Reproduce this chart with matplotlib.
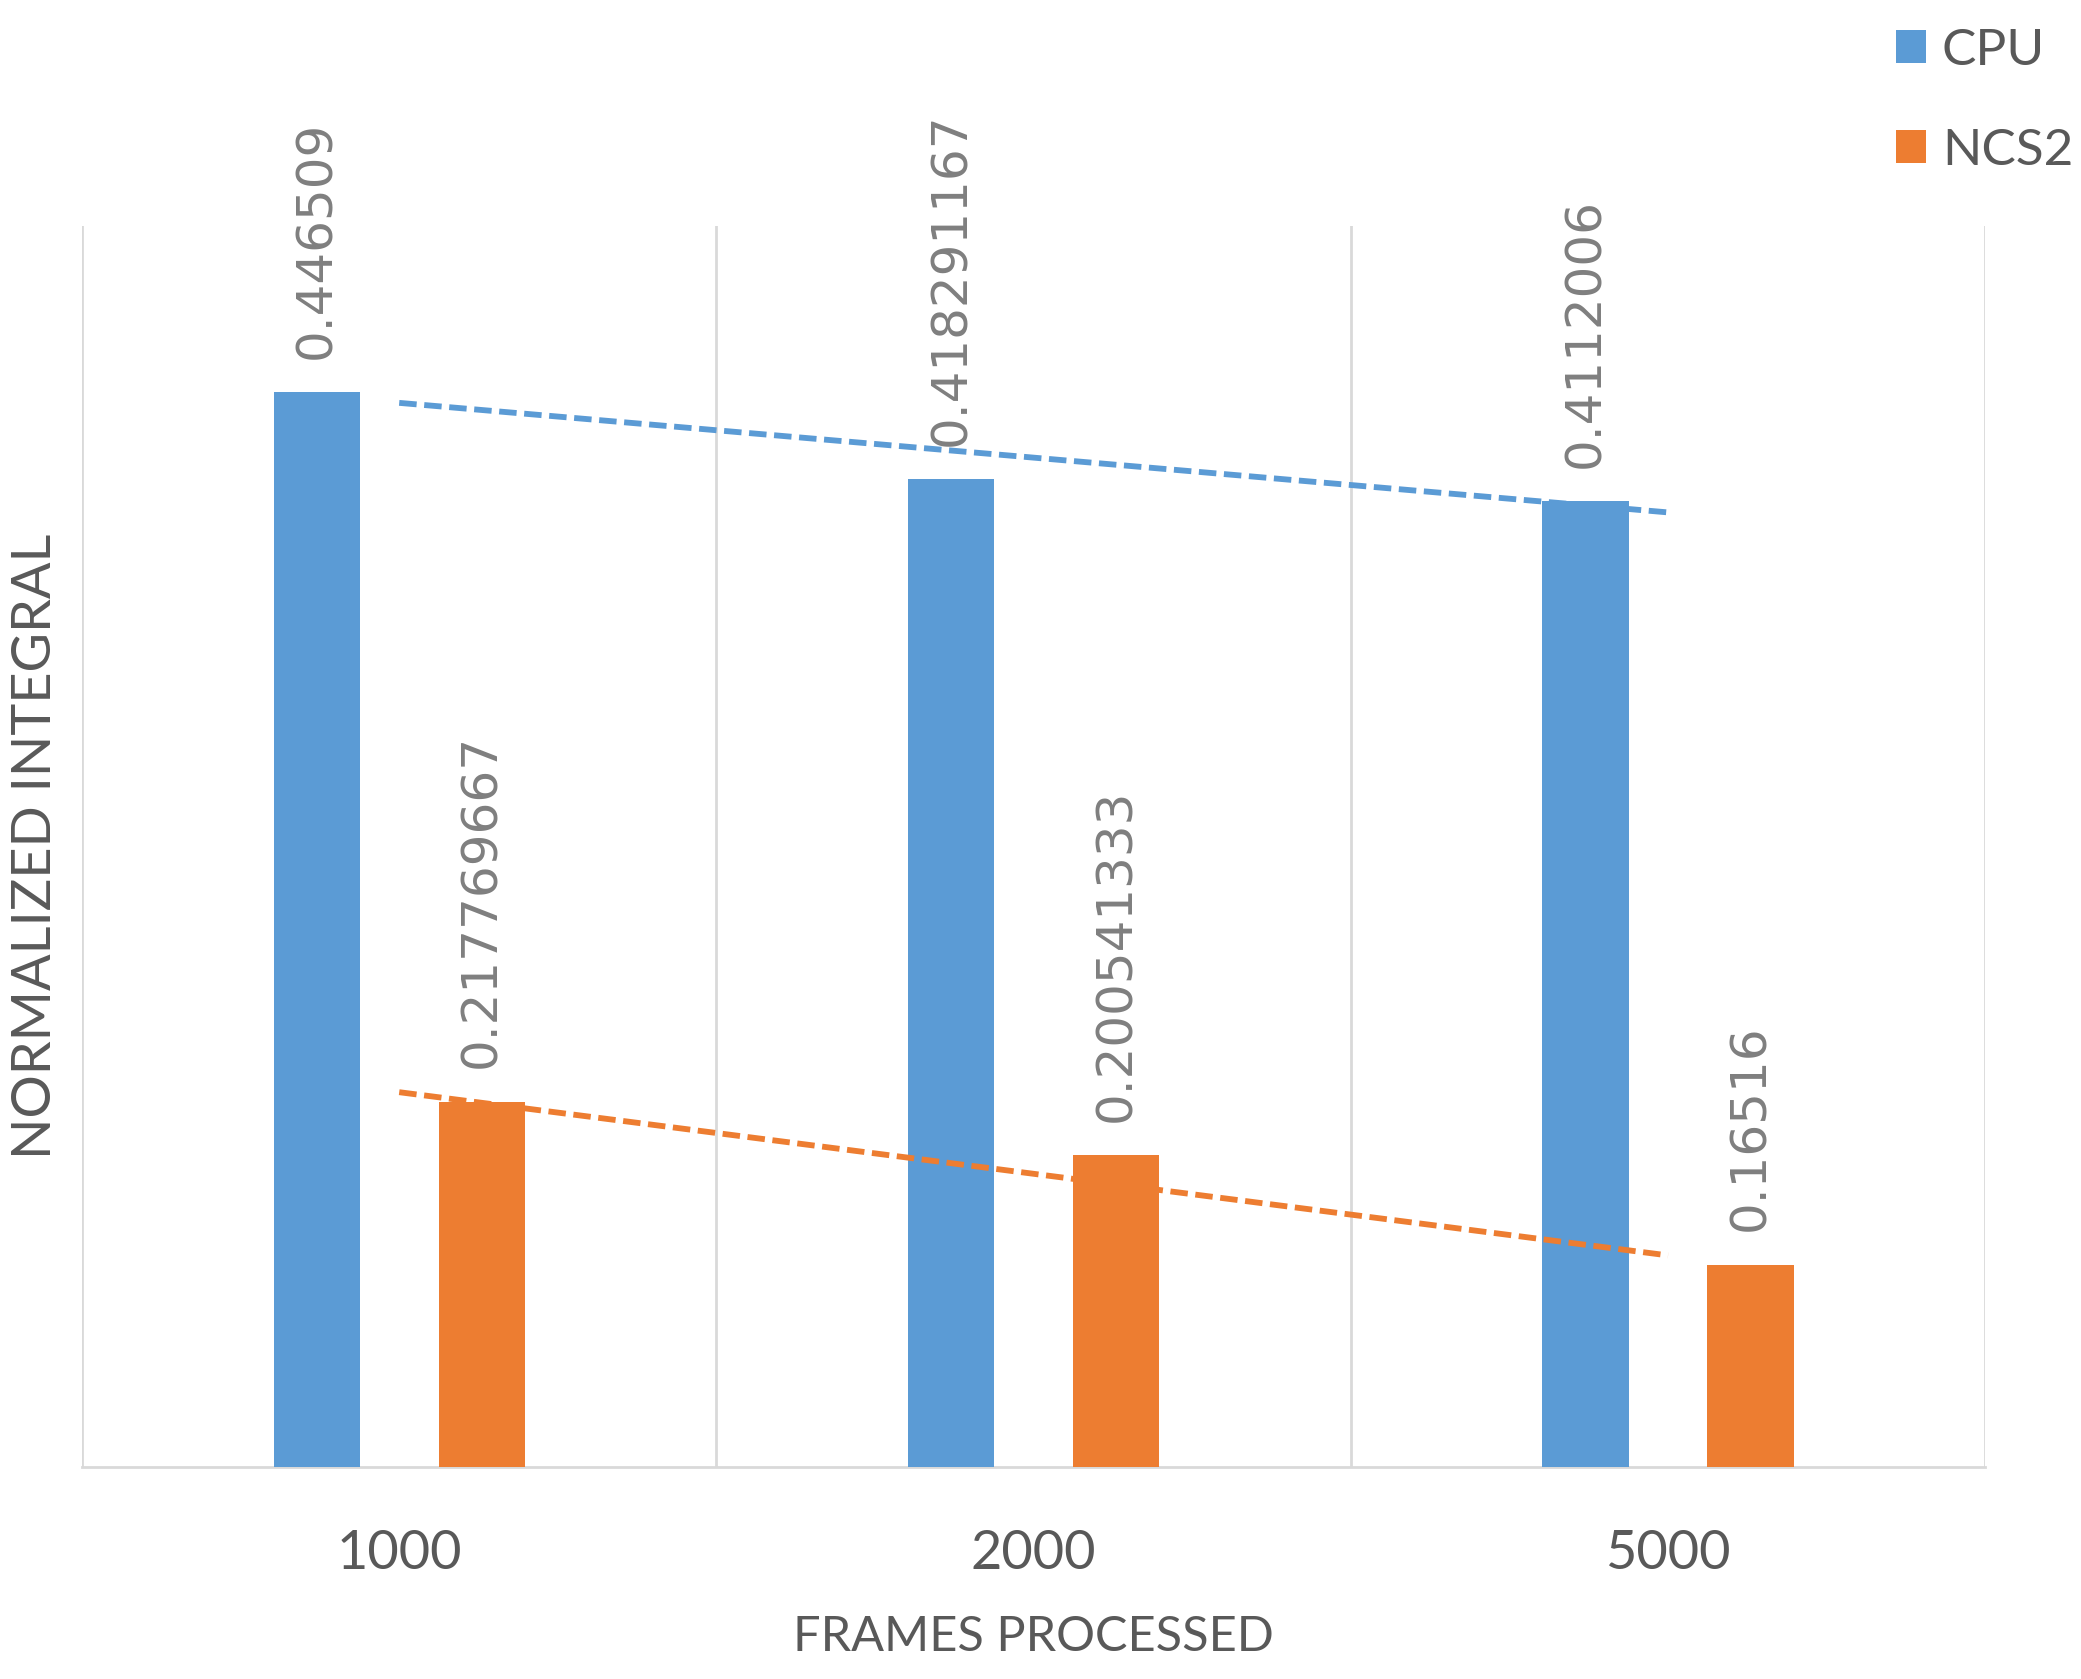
import numpy as np
import matplotlib
matplotlib.use("Agg")
import matplotlib.pyplot as plt

categories = ["1000", "2000", "5000"]
cpu = [0.446509, 0.418291167, 0.4112006]
ncs2 = [0.217769667, 0.200541333, 0.16516]
cpu_labels = ["0.446509", "0.418291167", "0.4112006"]
ncs2_labels = ["0.217769667", "0.200541333", "0.16516"]

BLUE = "#5B9BD5"
ORANGE = "#ED7D31"
GRID = "#D9D9D9"
TEXT = "#595959"
LABEL = "#7F7F7F"

plt.rcParams["font.family"] = ["Lato", "DejaVu Sans"]


def main():
    fig = plt.figure(figsize=(20.81, 16.79), dpi=100)
    ax = fig.add_axes([0.0394, 0.1263, 0.9146, 0.7391])

    x = np.arange(len(categories))
    width = 0.136
    offset = 0.13

    bars_cpu = ax.bar(x - offset, cpu, width, color=BLUE, label="CPU", zorder=3)
    bars_ncs = ax.bar(x + offset, ncs2, width, color=ORANGE, label="NCS2", zorder=3)

    # linear trend lines, Excel style
    for values, color in [(cpu, BLUE), (ncs2, ORANGE)]:
        slope, intercept = np.polyfit(x, values, 1)
        ax.plot(x, slope * x + intercept, color=color, lw=4.2,
                linestyle=(0, (3.0, 1.3)), zorder=4)

    for bars, texts in [(bars_cpu, cpu_labels), (bars_ncs, ncs2_labels)]:
        for bar, txt in zip(bars, texts):
            ax.annotate(txt, (bar.get_x() + bar.get_width() / 2, bar.get_height()),
                        xytext=(0, 24), textcoords="offset points",
                        rotation=90, ha="center", va="bottom",
                        fontsize=36, color=LABEL, family="DejaVu Sans")

    ax.set_xlim(-0.5, len(categories) - 0.5)
    ax.set_ylim(0.1, 0.5)

    for xv in np.arange(-0.5, len(categories), 1.0):
        ax.axvline(xv, color=GRID, lw=2, zorder=1)

    for side in ["top", "right", "left"]:
        ax.spines[side].set_visible(False)
    ax.spines["bottom"].set_color(GRID)
    ax.spines["bottom"].set_linewidth(2)

    ax.set_yticks([])
    ax.set_xticks(x)
    ax.set_xticklabels(categories, fontsize=39, color=TEXT)
    ax.tick_params(axis="x", length=0, pad=45)

    ax.set_xlabel("FRAMES PROCESSED", fontsize=35, color=TEXT, labelpad=26)
    ax.set_ylabel("NORMALIZED INTEGRAL", fontsize=39, color=TEXT, labelpad=16)

    fig.legend(handles=[bars_cpu, bars_ncs], loc="upper right",
               bbox_to_anchor=(1.016, 1.008), frameon=False, fontsize=37,
               handlelength=0.6, handleheight=0.6, handletextpad=0.3,
               labelspacing=1.05, labelcolor=TEXT, borderaxespad=0.4)

    fig.savefig("out.png", dpi=100, facecolor="white")


if __name__ == "__main__":
    main()
